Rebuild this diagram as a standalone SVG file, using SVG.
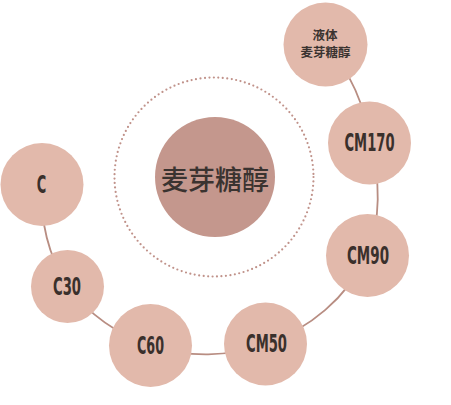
<svg xmlns="http://www.w3.org/2000/svg" width="451" height="405" viewBox="0 0 451 405">
<style>
.node{fill:#e2b9ab}
.lbl{font-family:"DejaVu Sans Condensed","DejaVu Sans",sans-serif;font-weight:bold;font-size:24px;fill:#3a302c;text-anchor:middle;dominant-baseline:central}
.cjk{font-family:"Noto Sans CJK SC",sans-serif;fill:#3a3330;text-anchor:middle;dominant-baseline:central}
.link{fill:none;stroke:#b88d82;stroke-width:1.8}
</style>
<rect width="451" height="405" fill="#ffffff"/>
<g id="connectors">
<path class="link" d="M42,184 A176 176 0 0 0 67.5,286.5 A176 176 0 0 0 150.5,345.5 A176 176 0 0 0 265.5,344 A176 176 0 0 0 367.5,255.5 A176 176 0 0 0 369.5,143 A176 176 0 0 0 325.5,44.5"/>
</g>
<g id="ring">
<circle cx="214" cy="177" r="99.5" fill="none" stroke="#c0928a" stroke-width="2.2" stroke-linecap="round" stroke-dasharray="0 4.5"/>
</g>
<g id="center">
<circle cx="215" cy="177" r="60" fill="#c4978d"/>
<text class="cjk" x="215" y="178" font-size="27" font-weight="500">麦芽糖醇</text>
</g>
<g id="node-liquid">
<circle class="node" cx="325.5" cy="44.5" r="42"/>
<text class="cjk" x="325" y="34" font-size="12.5" font-weight="bold">液体</text>
<text class="cjk" x="325.5" y="51.5" font-size="12.5" font-weight="bold">麦芽糖醇</text>
</g>
<g id="node-cm170">
<circle class="node" cx="369.5" cy="143" r="41.5"/>
<text class="lbl" x="369.5" y="143" textLength="50" lengthAdjust="spacingAndGlyphs">CM170</text>
</g>
<g id="node-cm90">
<circle class="node" cx="367.5" cy="255.5" r="41.5"/>
<text class="lbl" x="368" y="256" textLength="42" lengthAdjust="spacingAndGlyphs">CM90</text>
</g>
<g id="node-cm50">
<circle class="node" cx="265.5" cy="344" r="41.5"/>
<text class="lbl" x="266.5" y="344" textLength="41" lengthAdjust="spacingAndGlyphs">CM50</text>
</g>
<g id="node-c60">
<circle class="node" cx="150.5" cy="345.5" r="41.5"/>
<text class="lbl" x="150.5" y="346" textLength="27" lengthAdjust="spacingAndGlyphs">C60</text>
</g>
<g id="node-c30">
<circle class="node" cx="67.5" cy="286.5" r="36.5"/>
<text class="lbl" x="67" y="287" textLength="28" lengthAdjust="spacingAndGlyphs">C30</text>
</g>
<g id="node-c">
<circle class="node" cx="42" cy="184.5" r="41.5"/>
<text class="lbl" x="41.5" y="185" textLength="9.5" lengthAdjust="spacingAndGlyphs">C</text>
</g>
</svg>
